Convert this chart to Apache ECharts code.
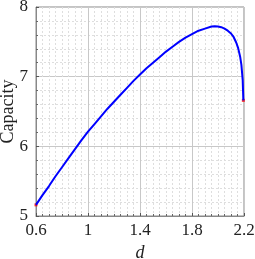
<!DOCTYPE html>
<html><head><meta charset="utf-8">
<script src="https://cdn.jsdelivr.net/npm/echarts@6/dist/echarts.min.js"></script>
<style>html,body{margin:0;padding:0;background:#fff}#c{width:255px;height:259px}</style>
</head><body><div id="c"></div>
<script>
const dValues = [0.6,0.65,0.7,0.75,0.8,0.85,0.9,0.95,1.0,1.05,1.1,1.15,1.2,1.25,1.3,1.35,1.4,1.45,1.5,1.55,1.6,1.65,1.7,1.75,1.8,1.85,1.9,1.95,1.975,2.0,2.025,2.05,2.075,2.1,2.12,2.14,2.155,2.17,2.18,2.19,2.195];
const capacity = [5.16,5.30,5.43,5.57,5.70,5.83,5.96,6.09,6.21,6.32,6.43,6.54,6.64,6.74,6.84,6.94,7.03,7.12,7.20,7.28,7.36,7.43,7.50,7.56,7.61,7.66,7.69,7.72,7.725,7.72,7.71,7.69,7.66,7.62,7.57,7.49,7.41,7.29,7.17,6.95,6.66];
const endPointIdx = [0, dValues.length - 1];
const xTicks = [0.6, 1, 1.4, 1.8, 2.2];
const yTicks = [5, 6, 7, 8];

const lineData = dValues.map((d, i) => [d, capacity[i]]);
const dotData = endPointIdx.map(i => [dValues[i], capacity[i]]);
const font = '"Liberation Serif", "DejaVu Serif", serif';
const chart = echarts.init(document.getElementById('c'), null, {renderer: 'canvas'});
const common = {
  axisLine: {show: true, lineStyle: {color: '#888'}},
  axisTick: {show: true, inside: true, length: 3, lineStyle: {color: '#555'}},
  splitLine: {show: true, lineStyle: {color: '#c8c8c8', width: 1}},
  minorSplitLine: {show: true, lineStyle: {color: '#dedede', type: [2, 2], width: 1}}
};
chart.setOption({
  animation: false,
  grid: {left: 36, right: 11, top: 7, bottom: 43, show: true, borderColor: '#888', borderWidth: 1,
         containLabel: false, outerBoundsMode: 'none'},
  xAxis: Object.assign({}, common, {
    type: 'value', min: xTicks[0], max: xTicks[xTicks.length-1], interval: 0.4,
    name: 'd', nameLocation: 'middle', nameGap: 28,
    nameTextStyle: {fontFamily: font, fontStyle: 'italic', fontSize: 18, color: '#222'},
    axisLabel: {fontFamily: font, fontSize: 17, color: '#222', margin: 6,
      formatter: v => String(+v.toFixed(1))},
    minorTick: {show: true, splitNumber: 8, length: 2, lineStyle: {color: '#666'}}
  }),
  yAxis: Object.assign({}, common, {
    type: 'value', min: yTicks[0], max: yTicks[yTicks.length-1], interval: 1,
    name: 'Capacity', nameLocation: 'middle', nameGap: 19, nameMoveOverlap: false,
    nameTextStyle: {fontFamily: font, fontSize: 18, color: '#222'},
    axisLabel: {fontFamily: font, fontSize: 17, color: '#222', margin: 8},
    minorTick: {show: true, splitNumber: 5, length: 2, lineStyle: {color: '#666'}}
  }),
  series: [
    {type: 'line', data: lineData, smooth: false, showSymbol: false,
     lineStyle: {color: '#0000ff', width: 2}},
    {type: 'scatter', data: dotData, symbol: 'rect', symbolSize: 3,
     itemStyle: {color: '#ff0000'}}
  ]
});
</script></body></html>
